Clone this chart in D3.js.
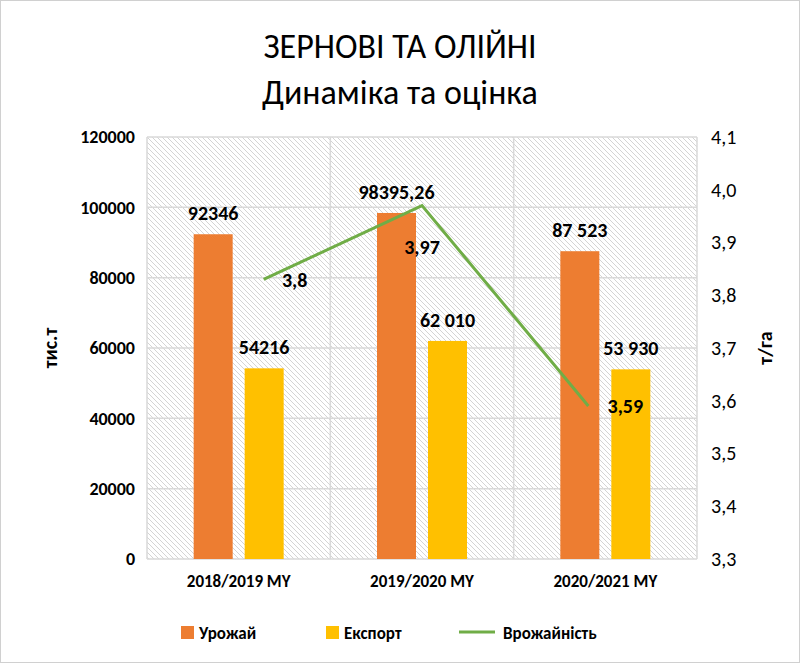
<!DOCTYPE html>
<html>
<head>
<meta charset="utf-8">
<script src="https://cdn.jsdelivr.net/npm/d3@7"></script>
<style>
body { margin: 0; background: #fff; }
svg { font-family: Calibri, Carlito, "Open Sans", sans-serif; }
</style>
</head>
<body>
<svg width="800" height="663"></svg>
<script>
var categories = ["2018/2019 MY", "2019/2020 MY", "2020/2021 MY"];
var harvest = [92346, 98395.26, 87523];
var harvestLabels = ["92346", "98395,26", "87 523"];
var exportVals = [54216, 62010, 53930];
var exportLabels = ["54216", "62 010", "53 930"];
var yieldVals = [3.83, 3.97, 3.59];
var yieldLabels = ["3,8", "3,97", "3,59"];
var leftTicks = [0, 20000, 40000, 60000, 80000, 100000, 120000];
var rightTicks = [3.3, 3.4, 3.5, 3.6, 3.7, 3.8, 3.9, 4.0, 4.1];

var svg = d3.select("svg");
var pLeft = 147, pRight = 697, pTop = 137, pBottom = 559;

svg.append("rect").attr("x", 0.5).attr("y", 0.5).attr("width", 799).attr("height", 662)
    .attr("fill", "#fff").attr("stroke", "#d0d0d0");

var defs = svg.append("defs");
var pat = defs.append("pattern").attr("id", "hatch").attr("patternUnits", "userSpaceOnUse")
    .attr("width", 5).attr("height", 5);
pat.append("path").attr("d", "M0,0 L5,5 M-1,4 L1,6 M4,-1 L6,1").attr("stroke", "#d4d4d4").attr("stroke-width", 1);

svg.append("text").attr("x", 400).attr("y", 58).attr("text-anchor", "middle")
    .attr("font-size", 34).attr("fill", "#000").text("ЗЕРНОВІ ТА ОЛІЙНІ");
svg.append("text").attr("x", 400).attr("y", 104).attr("text-anchor", "middle")
    .attr("font-size", 34).attr("fill", "#000").text("Динаміка та оцінка");

var x = d3.scaleBand().domain(categories).range([pLeft, pRight]);
var y = d3.scaleLinear().domain([0, 120000]).range([pBottom, pTop]);
var y2 = d3.scaleLinear().domain([3.3, 4.1]).range([pBottom, pTop]);

svg.append("rect").attr("x", pLeft).attr("y", pTop).attr("width", pRight - pLeft)
    .attr("height", pBottom - pTop).attr("fill", "url(#hatch)");

svg.selectAll(".hg").data(leftTicks).enter().append("line")
    .attr("x1", pLeft).attr("x2", pRight).attr("y1", function (d) { return y(d); })
    .attr("y2", function (d) { return y(d); }).attr("stroke", "#d9d9d9").attr("stroke-width", 1.5);
svg.selectAll(".vg").data([0, 1, 2, 3]).enter().append("line")
    .attr("x1", function (d) { return pLeft + d * x.bandwidth(); })
    .attr("x2", function (d) { return pLeft + d * x.bandwidth(); })
    .attr("y1", pTop).attr("y2", pBottom).attr("stroke", "#d9d9d9").attr("stroke-width", 1.5);

var bw = 39;
svg.selectAll(".b1").data(harvest).enter().append("rect")
    .attr("x", function (d, i) { return x(categories[i]) + x.bandwidth() / 2 - bw - 6; })
    .attr("y", function (d) { return y(d); }).attr("width", bw)
    .attr("height", function (d) { return pBottom - y(d); }).attr("fill", "#ed7d31");
svg.selectAll(".b2").data(exportVals).enter().append("rect")
    .attr("x", function (d, i) { return x(categories[i]) + x.bandwidth() / 2 + 6; })
    .attr("y", function (d) { return y(d); }).attr("width", bw)
    .attr("height", function (d) { return pBottom - y(d); }).attr("fill", "#ffc000");

var lbl = { "font-size": 20, "font-weight": "bold", "fill": "#000", "text-anchor": "middle" };
function style(sel) { for (var k in lbl) sel.attr(k, lbl[k]); return sel; }

style(svg.selectAll(".l1").data(harvest).enter().append("text"))
    .attr("x", function (d, i) { return x(categories[i]) + x.bandwidth() / 2 - bw / 2 - 6; })
    .attr("y", function (d) { return y(d) - 14; })
    .text(function (d, i) { return harvestLabels[i]; });
style(svg.selectAll(".l2").data(exportVals).enter().append("text"))
    .attr("x", function (d, i) { return x(categories[i]) + x.bandwidth() / 2 + bw / 2 + 6; })
    .attr("y", function (d) { return y(d) - 14; })
    .text(function (d, i) { return exportLabels[i]; });

var offs = [25, 0, -17];
var line = d3.line().x(function (d, i) { return x(categories[i]) + x.bandwidth() / 2 + offs[i]; })
    .y(function (d) { return y2(d); });
svg.append("path").datum(yieldVals).attr("d", line).attr("fill", "none")
    .attr("stroke", "#70ad47").attr("stroke-width", 3);
style(svg.selectAll(".l3").data(yieldVals).enter().append("text"))
    .attr("x", function (d, i) { return x(categories[i]) + x.bandwidth() / 2 + [56, 0, 20][i]; })
    .attr("y", function (d, i) { return y2(d) + [8, 48, 7][i]; })
    .text(function (d, i) { return yieldLabels[i]; });

var axL = svg.append("g").attr("transform", "translate(" + pLeft + ",0)")
    .call(d3.axisLeft(y).tickValues(leftTicks).tickSize(0).tickPadding(12).tickFormat(d3.format("d")));
var axR = svg.append("g").attr("transform", "translate(" + pRight + ",0)")
    .call(d3.axisRight(y2).tickValues(rightTicks).tickSize(0).tickPadding(14)
        .tickFormat(function (d) { return d3.format(".1f")(d).replace(".", ","); }));
var axB = svg.append("g").attr("transform", "translate(0," + pBottom + ")")
    .call(d3.axisBottom(x).tickSize(0).tickPadding(16));
[axL, axR, axB].forEach(function (a) {
    a.select(".domain").remove();
    a.selectAll("text").attr("font-size", 18).attr("font-weight", "bold").attr("fill", "#000")
        .attr("font-family", "Calibri, Carlito, 'Open Sans', sans-serif");
});
axR.selectAll("text").attr("font-weight", "normal").attr("font-size", 20);
axB.selectAll("text").attr("font-size", 17);

svg.append("text").attr("transform", "translate(57,348) rotate(-90)").attr("text-anchor", "middle")
    .attr("font-size", 20).attr("font-weight", "bold").text("тис.т");
svg.append("text").attr("transform", "translate(772,348) rotate(-90)").attr("text-anchor", "middle")
    .attr("font-size", 20).attr("font-weight", "bold").text("т/га");

var legend = [
    { name: "Урожай", color: "#ed7d31", x: 181, type: "rect" },
    { name: "Експорт", color: "#ffc000", x: 326, type: "rect" },
    { name: "Врожайність", color: "#70ad47", x: 465, type: "line" }
];
legend.forEach(function (l) {
    if (l.type === "rect") {
        svg.append("rect").attr("x", l.x).attr("y", 626).attr("width", 13).attr("height", 13).attr("fill", l.color);
    } else {
        svg.append("line").attr("x1", l.x - 6).attr("x2", l.x + 30).attr("y1", 632).attr("y2", 632)
            .attr("stroke", l.color).attr("stroke-width", 3);
    }
    svg.append("text").attr("x", l.x + (l.type === "rect" ? 18 : 38)).attr("y", 639)
        .attr("font-size", 17).attr("font-weight", "bold").text(l.name);
});
</script>
</body>
</html>
